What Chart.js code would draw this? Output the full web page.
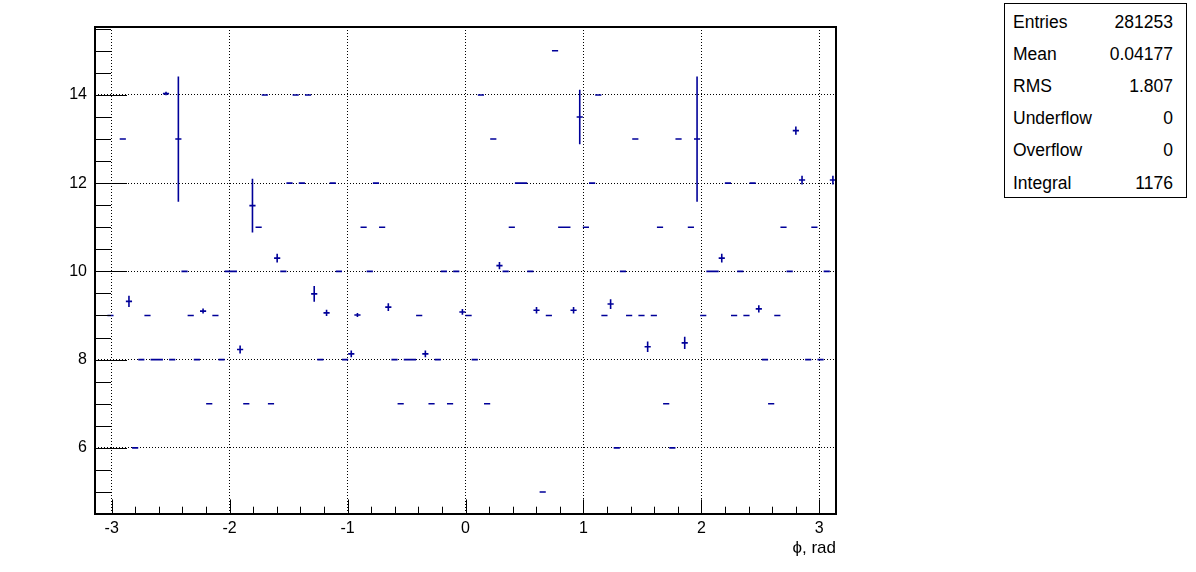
<!DOCTYPE html>
<html lang="en">
<head>
<meta charset="UTF-8" />
<title>phi profile</title>
<script src="https://cdn.jsdelivr.net/npm/chart.js"></script>
<style>
  body { margin: 0; background: #fff; font-family: "Liberation Sans", Arial, sans-serif; }
  #wrap { position: relative; width: 1196px; height: 572px; }
  #stats { position: absolute; left: 1004px; top: 3px; width: 181px; height: 193px;
           border: 1px solid #000; background: #fff; }
  .row { position: absolute; left: 8px; right: 13px; height: 20px; line-height: 20px; font-size: 17.5px; color: #000; }
  .row .val { position: absolute; right: 0; top: 0; }
</style>
</head>
<body>
<div id="wrap">
  <canvas id="c" width="1196" height="572"></canvas>
  <div id="stats"></div>
</div>
<script>
// profile in phi, 120 bins over [-pi, pi]; null = empty bin
const nBins = 120;
const phiMin = -Math.PI;
const phiMax = Math.PI;

const binMean = [
  null, null, 9, null, 13, 9.32, 6, 8, 9, 8,
  8, 14.03, 8, 13.0, 10, 9, 8, 9.10, 7, 9,
  8, 10, 10, 8.23, 7, 11.49, 11, 14, 7, 10.30,
  10, 12, 14, 12, 14, 9.49, 8, 9.06, 12, 10,
  8, 8.13, 9.01, 11, 10, 12, 11, 9.19, 8, 7,
  8, 8, 9, 8.13, 7, 8, 10, 7, 10, 9.08,
  9, 8, 14, 7, 13, 10.13, 10, 11, 12, 12,
  10, 9.12, 5, 9, 15, 11, 11, 9.12, 13.5, 11,
  12, 14, 9, 9.26, 6, 10, 9, 13, 9, 8.29,
  9, 11, 7, 6, 13, 8.38, 11, 13.0, 9, 10,
  10, 10.30, 12, 9, 10, 9, 12, 9.15, 8, 7,
  9, 11, 10, 13.19, 12.07, 8, 11, 8, 10, 12.07
];

const binErr = [
  0, 0, 0, 0, 0, 0.13, 0, 0, 0, 0,
  0, 0.04, 0, 1.42, 0, 0, 0, 0.057, 0, 0,
  0, 0, 0, 0.09, 0, 0.61, 0, 0, 0, 0.10,
  0, 0, 0, 0, 0, 0.18, 0, 0.07, 0, 0,
  0, 0.075, 0.045, 0, 0, 0, 0, 0.087, 0, 0,
  0, 0, 0, 0.075, 0, 0, 0, 0, 0, 0.065,
  0, 0, 0, 0, 0, 0.08, 0, 0, 0, 0,
  0, 0.075, 0, 0, 0, 0, 0, 0.075, 0.62, 0,
  0, 0, 0, 0.11, 0, 0, 0, 0, 0, 0.12,
  0, 0, 0, 0, 0, 0.14, 0, 1.42, 0, 0,
  0, 0.10, 0, 0, 0, 0, 0, 0.08, 0, 0,
  0, 0, 0, 0.095, 0.10, 0, 0, 0, 0, 0.10
];

const xTicks = [-3, -2, -1, 0, 1, 2, 3];
const yTicks = [6, 8, 10, 12, 14];
const yMin = 4.5;
const yMax = 15.54;

const statNames = ["Entries", "Mean", "RMS", "Underflow", "Overflow", "Integral"];
const statValues = ["281253", "0.04177", "1.807", "0", "0", "1176"];

// stats box
const stats = document.getElementById("stats");
statNames.forEach((name, i) => {
  const row = document.createElement("div");
  row.className = "row";
  row.style.top = (8 + i * 32.1) + "px";
  row.innerHTML = `<span>${name}</span><span class="val">${statValues[i]}</span>`;
  stats.appendChild(row);
});

// horizontal (bin width) and vertical (error) bars
const bw = (phiMax - phiMin) / nBins;
const hPts = [], vPts = [];
binMean.forEach((v, i) => {
  if (v === null) return;
  const lo = phiMin + i * bw, hi = lo + bw, c = lo + bw / 2;
  hPts.push({x: lo, y: v}, {x: hi, y: v}, {x: c, y: null});
  const e = binErr[i];
  if (e > 0) vPts.push({x: c, y: v - e}, {x: c, y: v + e}, {x: c, y: null});
});

const navy = "#000099";
const font = {family: "'Liberation Sans', Arial, sans-serif", size: 16};

// frame and inward ticks like ROOT
const rootFrame = {
  id: "rootFrame",
  afterDatasetsDraw(chart) {
    const {ctx, chartArea: a, scales: {x, y}} = chart;
    ctx.save();
    ctx.strokeStyle = "#000";
    ctx.lineWidth = 1;
    ctx.beginPath();
    for (let k = -16; k <= 16; k++) {
      const v = k * 0.2;
      if (v <= phiMin || v >= phiMax) continue;
      const px = Math.round(x.getPixelForValue(v)) + 0.5;
      const len = (k % 5 === 0) ? 14.6 : 7.3;
      ctx.moveTo(px, a.bottom);
      ctx.lineTo(px, a.bottom - len);
    }
    for (let k = 9; k <= 31; k++) {
      const v = k * 0.5;
      if (v <= yMin || v >= yMax) continue;
      const py = Math.round(y.getPixelForValue(v)) + 0.5;
      const len = (k % 4 === 0) ? 32 : 16;
      ctx.moveTo(a.left, py);
      ctx.lineTo(a.left + len, py);
    }
    ctx.stroke();
    ctx.lineWidth = 2;
    ctx.strokeRect(a.left, a.top, a.right - a.left, a.bottom - a.top);
    ctx.restore();
  }
};

new Chart(document.getElementById("c"), {
  type: "scatter",
  data: {
    datasets: [
      { data: hPts, showLine: true, pointRadius: 0, borderColor: navy, borderWidth: 1.6, fill: false },
      { data: vPts, showLine: true, pointRadius: 0, borderColor: navy, borderWidth: 1.6, fill: false }
    ]
  },
  options: {
    responsive: false,
    animation: false,
    devicePixelRatio: 1,
    layout: { padding: { left: 0, right: 360, top: 27, bottom: 0 } },
    plugins: { legend: { display: false }, tooltip: { enabled: false } },
    scales: {
      x: {
        type: "linear", min: phiMin, max: phiMax,
        afterFit: s => { s.height = 58; },
        afterBuildTicks: s => { s.ticks = xTicks.map(v => ({value: v})); },
        ticks: { autoSkip: false, maxRotation: 0, padding: 5, color: "#000", font, callback: v => String(v) },
        grid: { color: "#000", lineWidth: 1, drawTicks: false },
        border: { display: false, dash: [1, 2] },
        title: { display: true, text: "ϕ, rad", align: "end", color: "#000", font: {family: font.family, size: 17}, padding: {top: 0, bottom: 13} }
      },
      y: {
        type: "linear", min: yMin, max: yMax,
        afterFit: s => { s.width = 95; },
        afterBuildTicks: s => { s.ticks = yTicks.map(v => ({value: v})); },
        ticks: { autoSkip: false, padding: 8, color: "#000", font, callback: v => String(v) },
        grid: { color: "#000", lineWidth: 1, drawTicks: false },
        border: { display: false, dash: [1, 2] }
      }
    }
  },
  plugins: [rootFrame]
});
</script>
</body>
</html>
